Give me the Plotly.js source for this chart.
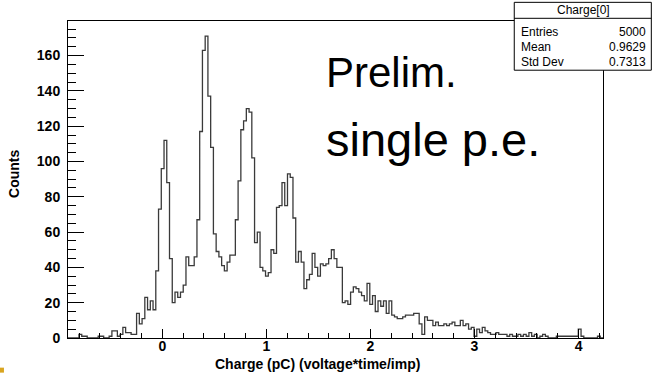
<!DOCTYPE html>
<html><head><meta charset="utf-8">
<script src="https://cdn.plot.ly/plotly-3.0.1.min.js"></script>
<style>html,body{margin:0;padding:0;background:#fff}#c{width:652px;height:373px}</style>
</head><body><div id="c"></div>
<script>
// Histogram definition
const xMin = -0.907;
const xMax = 4.235;
const nBins = 195;
const counts = [
 0,0,0,0,2,1,1,0,0,0, 0,1,1,0,0,1,4,4,1,2,
 6,3,3,2,2,14,8,11,23,16, 21,16,38,73,96,112,88,45,20,26,
 23,26,30,46,41,41,46,67,117,163, 171,137,108,59,49,46,41,38,43,47,
 47,67,89,118,123,130,128,102,54,60, 40,38,35,37,50,48,74,75,88,75,
 93,91,68,43,49,43,28,33,36,48, 40,35,42,41,42,45,50,45,40,40,
 20,21,19,26,29,28,26,24,21,31, 19,24,15,21,18,21,14,21,13,12,
 11,11,12,13,13,13,14,14,8,2, 12,10,10,7,9,7,7,8,7,8,
 9,7,7,10,7,8,5,6,1,5, 3,6,4,3,2,2,3,2,2,2,
 1,2,1,1,2,1,2,1,3,1, 2,0,1,2,1,0,0,0,1,1,
 1,1,1,1,1,1,5,1,0,0, 0,0,0,1,0
];
const statsTitle = "Charge[0]";
const statsNames = ["Entries", "Mean", "Std Dev"];
const statsValues = ["5000", "0.9629", "0.7313"];
const xTitle = "Charge (pC) (voltage*time/imp)";
const yTitle = "Counts";
const noteLines = ["Prelim.", "single p.e."];

const binW = (xMax - xMin) / nBins;
const xs = [], ys = [];
for (let i = 0; i < nBins; i++) { xs.push(xMin + i * binW); ys.push(counts[i]); }
xs.push(xMax); ys.push(counts[nBins - 1]);

const W = 652, H = 373;
const mL = 68, mR = 49.3, mT = 20.7, mB = 34.7;
const pw = W - mL - mR, ph = H - mT - mB;
const px = v => (v - mL) / pw;         // pixel -> paper x
const py = v => (H - mB - v) / ph;     // pixel -> paper y

const FAM = "Liberation Sans, Arial, sans-serif";
const tickFont = {family: FAM, size: 14, color: "#000", weight: "bold"};

const annotations = [
  {xref:"paper", yref:"paper", x: px(317), y: py(364), text: "<b>" + xTitle + "</b>", showarrow:false,
   font:{family:FAM, size:14, color:"#000"}, xanchor:"center", yanchor:"middle"},
  {xref:"paper", yref:"paper", x: px(14), y: py(174), text: "<b>" + yTitle + "</b>", showarrow:false, textangle:-90,
   font:{family:FAM, size:14, color:"#000"}, xanchor:"center", yanchor:"middle"},
  {xref:"paper", yref:"paper", x: px(324), y: py(98), text: noteLines[0], showarrow:false,
   font:{family:FAM, size:42, color:"#000"}, xanchor:"left", yanchor:"bottom"},
  {xref:"paper", yref:"paper", x: px(324), y: py(168), text: noteLines[1], showarrow:false,
   font:{family:FAM, size:47, color:"#000"}, xanchor:"left", yanchor:"bottom"},
  {xref:"paper", yref:"paper", x: px(583), y: py(10), text: statsTitle, showarrow:false,
   font:{family:FAM, size:12, color:"#000"}, xanchor:"center", yanchor:"middle"}
];
const rowY = [32, 47, 62];
for (let i = 0; i < statsNames.length; i++) {
  annotations.push({xref:"paper", yref:"paper", x: px(519), y: py(rowY[i]), text: statsNames[i], showarrow:false,
    font:{family:FAM, size:12, color:"#000"}, xanchor:"left", yanchor:"middle"});
  annotations.push({xref:"paper", yref:"paper", x: px(648), y: py(rowY[i]), text: statsValues[i], showarrow:false,
    font:{family:FAM, size:12, color:"#000"}, xanchor:"right", yanchor:"middle"});
}

const shapes = [
  {type:"rect", xref:"paper", yref:"paper", x0: px(514), x1: px(651), y0: py(70), y1: py(2),
   line:{color:"#000", width:1}, fillcolor:"#fff", layer:"above"},
  {type:"line", xref:"paper", yref:"paper", x0: px(514), x1: px(651), y0: py(18), y1: py(18),
   line:{color:"#000", width:1}, layer:"above"},
  {type:"rect", xref:"paper", yref:"paper", x0: px(0), x1: px(4), y0: py(373), y1: py(368),
   line:{width:0}, fillcolor:"#d9a520", layer:"above"}
];

const trace = {x: xs, y: ys, type: "scatter", mode: "lines", line: {shape: "hv", color: "#3a3a3a", width: 1.3},
  hoverinfo: "skip", showlegend: false};

const layout = {
  width: W, height: H, margin: {l: mL, r: mR, t: mT, b: mB},
  paper_bgcolor: "#fff", plot_bgcolor: "#fff", showlegend: false,
  xaxis: {range: [xMin, xMax], showgrid: false, zeroline: false, showline: true, mirror: true,
    linecolor: "#000", linewidth: 1, ticks: "inside", ticklen: 9, tickcolor: "#000", tickwidth: 1,
    dtick: 1, tick0: 0, tickfont: tickFont, ticklabelstandoff: -5,
    minor: {dtick: 0.2, tick0: 0, ticks: "inside", ticklen: 5, tickcolor: "#000", showgrid: false}},
  yaxis: {range: [0, 179.6], showgrid: false, zeroline: false, showline: true, mirror: true,
    linecolor: "#000", linewidth: 1, ticks: "inside", ticklen: 16, tickcolor: "#000", tickwidth: 1,
    dtick: 20, tick0: 0, tickfont: tickFont, ticklabelstandoff: 4,
    minor: {dtick: 5, tick0: 0, ticks: "inside", ticklen: 8, tickcolor: "#000", showgrid: false}},
  annotations: annotations, shapes: shapes
};
Plotly.newPlot("c", [trace], layout, {staticPlot: true, displayModeBar: false});
</script></body></html>
